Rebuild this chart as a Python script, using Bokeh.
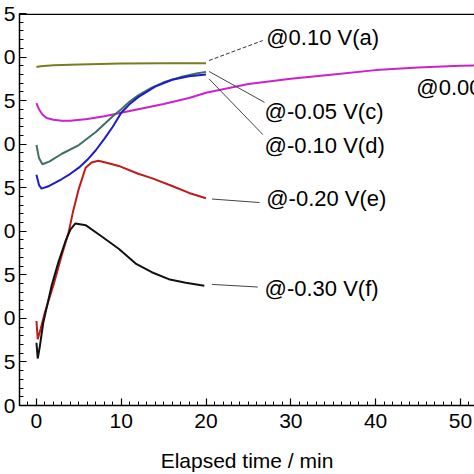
from bokeh.plotting import figure
from bokeh.models import Range1d, Span, SingleIntervalTicker
from bokeh.embed import file_html
from bokeh.resources import INLINE
from bokeh.core.properties import value

# ---- data ----
a_t = [0, 0.5, 2, 5, 10, 15, 20]
a_v = [38.85, 38.95, 39.05, 39.15, 39.25, 39.3, 39.3]

b_t = [0, 0.3, 0.7, 1.2, 2, 3, 4, 6, 8, 10, 12, 15, 18, 20, 25, 30, 35, 40, 45, 50, 52]
b_v = [34.7, 34.0, 33.4, 33.0, 32.8, 32.7, 32.7, 32.9, 33.2, 33.6, 34.0, 34.6, 35.3, 35.9,
       36.9, 37.5, 38.0, 38.5, 38.8, 39.0, 39.05]

c_t = [0, 0.3, 0.7, 1.5, 3, 5, 7, 9, 10, 11, 12, 13.6, 15, 17, 19, 20]
c_v = [29.9, 28.4, 27.7, 28.0, 28.9, 29.9, 31.4, 33.2, 34.0, 34.9, 35.6, 36.5, 37.1, 37.7, 38.15, 38.3]

d_t = [0, 0.3, 0.6, 1.5, 3, 4, 5, 6, 7, 8, 9, 10, 11, 12, 14, 16, 18, 20]
d_v = [26.5, 25.3, 24.9, 25.2, 26.0, 26.6, 27.3, 28.2, 29.3, 30.6, 32.0, 33.6, 34.6, 35.4,
       36.6, 37.4, 37.8, 38.0]

e_t = [0, 0.15, 0.5, 1, 2, 3, 3.8, 4.3, 5, 5.8, 6.5, 7.3, 8.5, 9.7, 12, 13.6, 16, 18, 20]
e_v = [9.7, 7.6, 8.8, 10.7, 13.8, 17.3, 19.9, 22.2, 24.9, 27.3, 27.9, 28.1, 27.8, 27.5,
       26.6, 26.1, 25.2, 24.4, 23.8]

f_t = [0, 0.15, 0.4, 0.8, 1.8, 2.6, 3.4, 4.0, 4.6, 5.8, 7.7, 9.7, 11.7, 13.6, 15.6, 17.6, 19.8]
f_v = [7.2, 5.4, 6.8, 9.5, 13.8, 16.5, 18.8, 20.2, 20.9, 20.7, 19.4, 18.0, 16.3, 15.3,
       14.5, 14.1, 13.75]

series_labels = ["@0.10 V(a)", "@0.00 V(b)", "@-0.05 V(c)", "@-0.10 V(d)", "@-0.20 V(e)", "@-0.30 V(f)"]
x_ticks = [0, 10, 20, 30, 40, 50]
y_ticks = [0, 5, 10, 15, 20, 25, 30, 35, 40, 45]
y_tick_text = ["0", "5", "0", "5", "0", "5", "0", "5", "0", "5"]
x_title = "Elapsed time / min"

# ---- styling / layout ----
FONT = "Liberation Sans"
colors = ["#7b7d1c", "#cc22cc", "#3e6e64", "#1c1ccc", "#c01a1a", "#111111"]

p = figure(width=474, height=474, output_backend="svg", toolbar_location=None,
           x_range=Range1d(-2.0, 51.66), y_range=Range1d(0, 45),
           min_border_left=0, min_border_right=0, min_border_top=13, min_border_bottom=0)
p.outline_line_color = None
p.grid.visible = False
p.background_fill_color = "white"
p.border_fill_color = "white"

# axes
xa = p.xaxis[0]
xa.ticker = SingleIntervalTicker(interval=10, num_minor_ticks=10)
xa.axis_label = x_title
ya = p.yaxis[0]
ya.ticker = SingleIntervalTicker(interval=5, num_minor_ticks=5)
ya.major_label_overrides = {t: s for t, s in zip(y_ticks, y_tick_text)}

for ax in (xa, ya):
    ax.axis_line_color = "black"
    ax.axis_line_width = 1.5
    ax.major_tick_in = 7
    ax.major_tick_out = 0
    ax.minor_tick_in = 4
    ax.minor_tick_out = 0
    ax.major_tick_line_color = "black"
    ax.minor_tick_line_color = "black"
    ax.major_tick_line_width = 1.2
    ax.minor_tick_line_width = 1
    ax.major_label_text_font = FONT
    ax.major_label_text_font_size = "21px"
    ax.major_label_text_color = "black"
    ax.axis_label_text_font = FONT
    ax.axis_label_text_font_size = "21px"
    ax.axis_label_text_font_style = "normal"
    ax.axis_label_text_color = "black"
xa.major_label_standoff = 8
xa.axis_label_standoff = 18
ya.major_label_standoff = 4

# top border of the frame (drawn just inside so it is not clipped)
p.add_layout(Span(location=44.92, dimension="width", line_color="black", line_width=1.5))

# curves
series = [(a_t, a_v), (b_t, b_v), (c_t, c_v), (d_t, d_v), (e_t, e_v), (f_t, f_v)]
for (t, v), col in zip(series, colors):
    p.line(t, v, line_color=col, line_width=2)

# leader lines from curve ends to labels
lead_x0 = [20.35, 20.35, 20.35, 20.7, 20.7]
lead_y0 = [39.6, 38.35, 37.5, 23.7, 13.9]
lead_x1 = [26.7, 26.9, 26.7, 26.3, 26.1]
lead_y1 = [41.9, 34.8, 31.1, 23.3, 13.6]
p.segment(lead_x0[:1], lead_y0[:1], lead_x1[:1], lead_y1[:1],
          line_color="#333333", line_width=1, line_dash="4 2")
p.segment(lead_x0[1:], lead_y0[1:], lead_x1[1:], lead_y1[1:],
          line_color="#444444", line_width=1)

# labels
lab_x = [27.1, 44.8, 26.9, 26.9, 27.1, 26.9]
lab_y = [42.25, 36.5, 33.8, 29.8, 23.75, 13.4]
p.text(lab_x, lab_y, text=series_labels, text_font=value(FONT), text_font_size="22px",
       text_color="black", text_align="left", text_baseline="middle")

open("out.html", "w").write(file_html(p, INLINE))
